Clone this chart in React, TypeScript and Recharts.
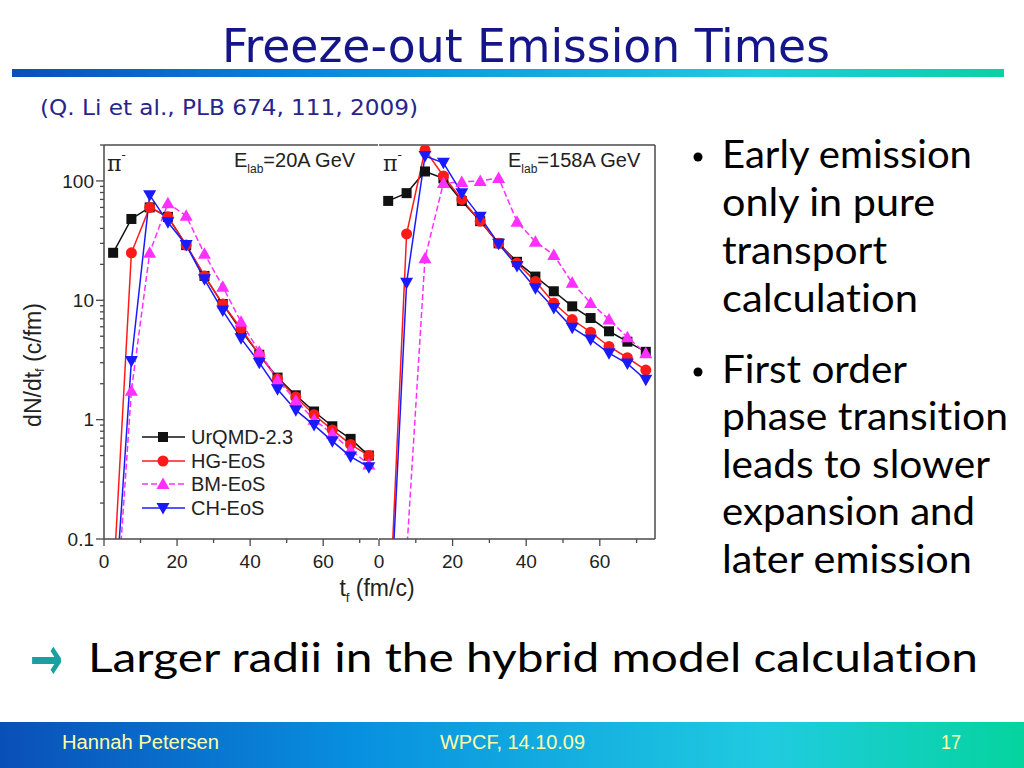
import React from "react";
import { LineChart, Line, XAxis, YAxis, ReferenceLine } from "recharts";

// emission time bins (fm/c)
const T_F = [2.5, 7.5, 12.5, 17.5, 22.5, 27.5, 32.5, 37.5, 42.5, 47.5, 52.5, 57.5, 62.5, 67.5, 72.5];

// E_lab = 20A GeV
const URQMD_20 = [25, 48, 60, 50, 29, 16, 9.3, 5.6, 3.5, 2.25, 1.6, 1.17, 0.88, 0.69, 0.5];
const HG_20 = [0.04, 25, 60, 50, 29, 16, 9.3, 5.8, 3.5, 2.2, 1.55, 1.1, 0.82, 0.62, 0.5];
const BM_20 = [0.01, 1.75, 25, 65, 51, 24.5, 13, 6.6, 3.7, 2.15, 1.45, 1.0, 0.76, 0.56, 0.42];
const CH_20 = [0.017, 3.1, 76, 45, 29, 15, 8.2, 4.8, 3.0, 1.8, 1.2, 0.9, 0.66, 0.49, 0.4];

// E_lab = 158A GeV
const URQMD_158 = [68, 79, 120, 105, 68, 46, 30, 21, 15.8, 11.9, 8.9, 7.1, 5.5, 4.5, 3.7];
const HG_158 = [0.014, 36, 182, 110, 70, 46, 30, 20.5, 14.4, 9.5, 6.9, 5.4, 4.1, 3.3, 2.6];
const BM_158 = [0.005, 0.075, 22.5, 96, 98, 100, 106, 45.6, 31, 24, 14, 9.5, 6.9, 4.9, 3.6];
const CH_158 = [0.01, 14, 162, 142, 79, 50, 29.7, 19.4, 12.6, 8.6, 5.9, 4.7, 3.6, 2.95, 2.16];

const X_TICKS = [0, 10, 20, 30, 40, 50, 60, 70];
const X_TICK_LABELS = [0, 20, 40, 60];
const Y_TICKS = [0.1, 0.2, 0.3, 0.4, 0.5, 0.6, 0.7, 0.8, 0.9, 1, 2, 3, 4, 5, 6, 7, 8, 9, 10, 20, 30, 40, 50, 60, 70, 80, 90, 100, 200];
const Y_TICK_LABELS = [0.1, 1, 10, 100];
const SERIES_KEYS = ["urqmd", "hg", "bm", "ch"];
const SERIES_NAMES = ["UrQMD-2.3", "HG-EoS", "BM-EoS", "CH-EoS"];

const SERIES_STYLE: Record<string, { color: string; shape: string; dash?: string }> = {
  urqmd: { color: "#111111", shape: "square" },
  hg: { color: "#ff1a1a", shape: "circle" },
  bm: { color: "#ff30ff", shape: "up", dash: "6 3" },
  ch: { color: "#1a1aff", shape: "down" },
};

const rows20 = T_F.map((t, i) => ({ t, urqmd: URQMD_20[i], hg: HG_20[i], bm: BM_20[i], ch: CH_20[i] }));
const rows158 = T_F.map((t, i) => ({ t, urqmd: URQMD_158[i], hg: HG_158[i], bm: BM_158[i], ch: CH_158[i] }));

const AXIS = "#4a4a4a";
const TICK_FONT = "'Liberation Sans', Arial, sans-serif";

function Marker({ shape, cx, cy, color }: { shape: string; cx: number; cy: number; color: string }) {
  if (shape === "square") return <rect x={cx - 5} y={cy - 5} width={10} height={10} fill={color} />;
  if (shape === "circle") return <circle cx={cx} cy={cy} r={5.5} fill={color} />;
  if (shape === "up")
    return <polygon points={`${cx},${cy - 6.5} ${cx + 6.5},${cy + 5} ${cx - 6.5},${cy + 5}`} fill={color} />;
  return <polygon points={`${cx},${cy + 6.5} ${cx - 6.5},${cy - 5} ${cx + 6.5},${cy - 5}`} fill={color} />;
}

const makeDot = (key: string) => (props: any) => {
  const { cx, cy, index } = props;
  if (cx == null || cy == null || !isFinite(cx) || !isFinite(cy)) return <g key={`d-${key}-${index}`} />;
  const s = SERIES_STYLE[key];
  return (
    <g key={`d-${key}-${index}`}>
      <Marker shape={s.shape} cx={cx} cy={cy} color={s.color} />
    </g>
  );
};

const isDecade = (v: number) => Math.abs(Math.log10(v) - Math.round(Math.log10(v))) < 1e-6;

const YTickLeft = (props: any) => {
  const { x, y, payload } = props;
  const v = payload.value;
  const major = isDecade(v);
  return (
    <g>
      <line x1={x} x2={x - (major ? 8 : 4)} y1={y} y2={y} stroke={AXIS} strokeWidth={1.3} />
      {major && Y_TICK_LABELS.includes(v) && (
        <text x={x - 10} y={y} dy="0.36em" textAnchor="end" fontFamily={TICK_FONT} fontSize={19} fill="#222">
          {String(v)}
        </text>
      )}
    </g>
  );
};

const YTickRight = (props: any) => {
  const { x, y, payload } = props;
  const major = isDecade(payload.value);
  return <line x1={x} x2={x - (major ? 8 : 4)} y1={y} y2={y} stroke={AXIS} strokeWidth={1.3} />;
};

const XTick = (props: any) => {
  const { x, y, payload } = props;
  const v = payload.value;
  const major = X_TICK_LABELS.includes(v);
  return (
    <g>
      <line x1={x} x2={x} y1={y} y2={y + (major ? 7 : 4)} stroke={AXIS} strokeWidth={1.3} />
      {major && (
        <text x={x} y={y + 29} textAnchor="middle" fontFamily={TICK_FONT} fontSize={19} fill="#222">
          {v}
        </text>
      )}
    </g>
  );
};

function Panel({ data, isLeft }: { data: any[]; isLeft: boolean }) {
  const width = isLeft ? 390 : 300;
  const margin = isLeft ? { top: 15, right: 12, bottom: 0, left: 0 } : { top: 15, right: 15, bottom: 0, left: 0 };
  return (
    <LineChart width={width} height={470} data={data} margin={margin}>
      <XAxis
        xAxisId="x"
        dataKey="t"
        type="number"
        domain={[0, 75]}
        allowDataOverflow
        ticks={X_TICKS}
        interval={0}
        height={61}
        tickSize={0}
        tickMargin={0}
        tickLine={false}
        tick={<XTick />}
        axisLine={{ stroke: AXIS, strokeWidth: 1.5 }}
      />
      <YAxis
        yAxisId="y"
        type="number"
        scale="log"
        domain={[0.1, 200]}
        allowDataOverflow
        ticks={Y_TICKS}
        interval={0}
        width={isLeft ? 104 : 9}
        tickSize={0}
        tickMargin={0}
        tickLine={false}
        tick={isLeft ? <YTickLeft /> : false}
        axisLine={isLeft ? { stroke: AXIS, strokeWidth: 1.5 } : false}
      />
      {isLeft && (
        <YAxis
          yAxisId="r"
          orientation="right"
          type="number"
          scale="log"
          domain={[0.1, 200]}
          allowDataOverflow
          ticks={Y_TICKS}
          interval={0}
          width={0}
          tickSize={0}
          tickMargin={0}
          tickLine={false}
          tick={<YTickRight />}
          axisLine={{ stroke: AXIS, strokeWidth: 1.5 }}
        />
      )}
      <ReferenceLine xAxisId="x" yAxisId="y" y={200} stroke={AXIS} strokeWidth={1.5} />
      {!isLeft && <ReferenceLine xAxisId="x" yAxisId="y" x={75} stroke={AXIS} strokeWidth={1.5} />}
      {SERIES_KEYS.map((k, i) => (
        <Line
          key={k}
          xAxisId="x"
          yAxisId="y"
          dataKey={k}
          name={SERIES_NAMES[i]}
          type="linear"
          stroke={SERIES_STYLE[k].color}
          strokeWidth={1.5}
          strokeDasharray={SERIES_STYLE[k].dash}
          dot={makeDot(k)}
          activeDot={false}
          isAnimationActive={false}
        />
      ))}
    </LineChart>
  );
}

const SANS = "Lato, 'Open Sans', sans-serif";
const COND = "'DejaVu Sans Condensed', 'DejaVu Sans', sans-serif";
const NOLIG: React.CSSProperties = { fontVariantLigatures: "none", fontFeatureSettings: "'liga' 0, 'clig' 0" };

function Background() {
  const bullet1 = ["Early emission", "only in pure", "transport", "calculation"];
  const b1y = [168, 216, 264, 312];
  const b1w = [250, 213, 165, 196];
  const bullet2 = ["First order", "phase transition", "leads to slower", "expansion and", "later emission"];
  const b2y = [383, 430, 478, 525, 573];
  const b2w = [185, 286, 268, 253, 250];
  const legendY = [437, 461, 484, 508];
  return (
    <svg width={1024} height={768} style={{ position: "absolute", left: 0, top: 0, ...NOLIG }}>
      <defs>
        <linearGradient id="topbar" x1="0" x2="1" y1="0" y2="0">
          <stop offset="0" stopColor="#0a4fb8" />
          <stop offset="0.3" stopColor="#0a86dc" />
          <stop offset="0.75" stopColor="#1ecbe0" />
          <stop offset="1" stopColor="#08d2a4" />
        </linearGradient>
        <linearGradient id="footbar" x1="0" x2="1" y1="0" y2="0">
          <stop offset="0" stopColor="#0a4fb8" />
          <stop offset="0.35" stopColor="#0890e0" />
          <stop offset="0.75" stopColor="#20cbe0" />
          <stop offset="1" stopColor="#04d49e" />
        </linearGradient>
      </defs>
      <rect x={0} y={0} width={1024} height={768} fill="#ffffff" />
      <text x={222} y={62} fontFamily={COND} fontSize={47} fill="#15158a" textLength={608} lengthAdjust="spacingAndGlyphs">
        Freeze-out Emission Times
      </text>
      <rect x={12} y={69} width={992} height={8} fill="url(#topbar)" />
      <text x={40} y={115} fontFamily={COND} fontSize={22} fill="#26268a" textLength={378} lengthAdjust="spacingAndGlyphs">
        (Q. Li et al., PLB 674, 111, 2009)
      </text>

      {/* bullets */}
      <circle cx={698} cy={157} r={4.5} fill="#000" />
      {bullet1.map((s, i) => (
        <text key={s} x={722} y={b1y[i]} fontFamily={SANS} fontSize={38} fill="#000" textLength={b1w[i]} lengthAdjust="spacingAndGlyphs" style={NOLIG}>
          {s}
        </text>
      ))}
      <circle cx={698} cy={372} r={4.5} fill="#000" />
      {bullet2.map((s, i) => (
        <text key={s} x={722} y={b2y[i]} fontFamily={SANS} fontSize={38} fill="#000" textLength={b2w[i]} lengthAdjust="spacingAndGlyphs" style={NOLIG}>
          {s}
        </text>
      ))}

      {/* conclusion */}
      <text x={30} y={679} fontFamily="'DejaVu Sans', sans-serif" fontWeight="bold" fontSize={60} fill="#1aa0a0" textLength={33} lengthAdjust="spacingAndGlyphs">
        →
      </text>
      <text x={88} y={672} fontFamily={SANS} fontSize={41} fill="#000" textLength={890} lengthAdjust="spacingAndGlyphs" style={NOLIG}>
        Larger radii in the hybrid model calculation
      </text>

      {/* footer */}
      <rect x={0} y={722} width={1024} height={46} fill="url(#footbar)" />
      <text x={62} y={749} fontFamily={TICK_FONT} fontSize={20} fill="#ffffa8" textLength={157} lengthAdjust="spacingAndGlyphs">
        Hannah Petersen
      </text>
      <text x={440} y={749} fontFamily={TICK_FONT} fontSize={20} fill="#ffffa8" textLength={145} lengthAdjust="spacingAndGlyphs">
        WPCF, 14.10.09
      </text>
      <text x={941} y={749} fontFamily={TICK_FONT} fontSize={20} fill="#ffffa8" textLength={20} lengthAdjust="spacingAndGlyphs">
        17
      </text>

      {/* chart labels */}
      <text
        x={33}
        y={365}
        transform="rotate(-90 33 365)"
        textAnchor="middle"
        dominantBaseline="central"
        fontFamily={TICK_FONT}
        fontSize={23}
        fill="#222"
      >
        <tspan>dN/dt</tspan>
        <tspan dy={6} fontSize={13}>f</tspan>
        <tspan dy={-6}> (c/fm)</tspan>
      </text>
      <text x={377} y={596} textAnchor="middle" fontFamily={TICK_FONT} fontSize={23} fill="#222">
        <tspan>t</tspan>
        <tspan dy={6} fontSize={13}>f</tspan>
        <tspan dy={-6}> (fm/c)</tspan>
      </text>

      {/* panel annotations */}
      {[107, 383].map((px) => (
        <text key={px} x={px} y={171} fontFamily="'DejaVu Serif', serif" fontSize={22} fill="#222">
          π<tspan dy={-12} fontSize={13}>-</tspan>
        </text>
      ))}
      <text x={234} y={167} fontFamily={TICK_FONT} fontSize={20} fill="#222">
        E<tspan dy={6} fontSize={12}>lab</tspan>
        <tspan dy={-6}>=20A GeV</tspan>
      </text>
      <text x={508} y={167} fontFamily={TICK_FONT} fontSize={20} fill="#222">
        E<tspan dy={6} fontSize={12}>lab</tspan>
        <tspan dy={-6}>=158A GeV</tspan>
      </text>

      {/* legend */}
      {SERIES_KEYS.map((k, i) => {
        const s = SERIES_STYLE[k];
        const cy = legendY[i];
        return (
          <g key={k}>
            <line x1={142} x2={185} y1={cy} y2={cy} stroke={s.color} strokeWidth={1.5} strokeDasharray={s.dash} />
            <Marker shape={s.shape} cx={163} cy={cy} color={s.color} />
            <text x={191} y={cy + 7} fontFamily={TICK_FONT} fontSize={20} fill="#222">
              {SERIES_NAMES[i]}
            </text>
          </g>
        );
      })}
    </svg>
  );
}

export default function App() {
  return (
    <div style={{ position: "relative", width: 1024, height: 768, overflow: "hidden", background: "#fff" }}>
      <style>{`body{margin:0}`}</style>
      <Background />
      <div style={{ position: "absolute", left: 0, top: 130 }}>
        <Panel data={rows20} isLeft={true} />
      </div>
      <div style={{ position: "absolute", left: 370, top: 130 }}>
        <Panel data={rows158} isLeft={false} />
      </div>
    </div>
  );
}
